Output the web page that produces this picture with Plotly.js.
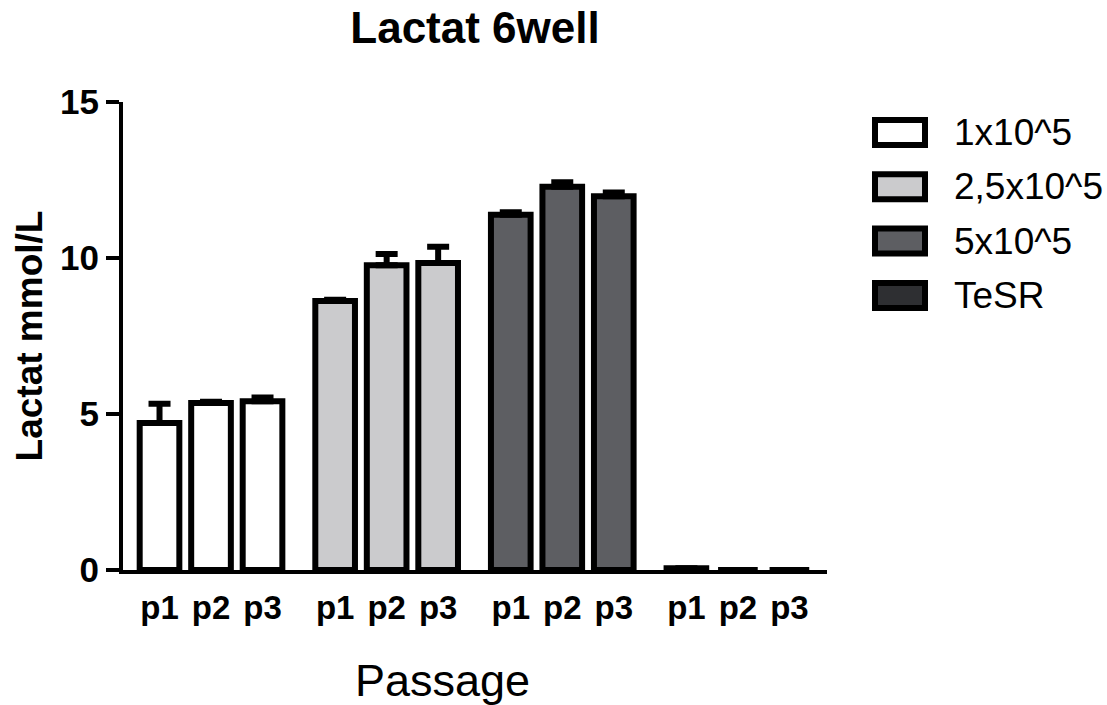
<!DOCTYPE html>
<html>
<head>
<meta charset="utf-8">
<script src="https://cdn.plot.ly/plotly-3.0.1.min.js"></script>
<style>html,body{margin:0;padding:0;background:#fff;}#chart{width:1107px;height:705px;}</style>
</head>
<body>
<div id="chart"></div>
<script>
// ---- data ----
const passages = ['p1', 'p2', 'p3'];
const seriesNames = ['1x10^5', '2,5x10^5', '5x10^5', 'TeSR'];
const vals1 = [4.71, 5.35, 5.41];
const err1 = [0.62, 0.04, 0.12];
const vals2 = [8.62, 9.77, 9.84];
const err2 = [0.04, 0.36, 0.52];
const vals3 = [11.39, 12.28, 11.98];
const err3 = [0.08, 0.15, 0.12];
const vals4 = [0.06, 0, 0];
const err4 = [0, 0, 0];
const yTicks = [0, 5, 10, 15];
const fillColors = ['#ffffff', '#cbcbcd', '#5d5e62', '#2e2f32'];
const xTitle = 'Passage';
const yTitle = 'Lactat mmol/L';
const chartTitle = 'Lactat 6well';

const allVals = [vals1, vals2, vals3, vals4];
const allErr = [err1, err2, err3, err4];

// ---- layout helpers ----
const FONT = 'Arial, "Liberation Sans", Helvetica, sans-serif';
const GROUP_STEP = 3.41;
const xRange = [-0.709, 12.96];
const W = 1107, H = 705;
const M = {l: 123, r: 280, t: 102, b: 135};
const plotW = W - M.l - M.r, plotH = H - M.t - M.b;
const pxX = p => (p - M.l) / plotW;
const pxY = p => (H - M.b - p) / plotH;

const traces = [];
const tickvals = [], ticktext = [];
allVals.forEach((vals, g) => {
  const xs = vals.map((_, i) => g * GROUP_STEP + i);
  xs.forEach((x, i) => { tickvals.push(x); ticktext.push(passages[i]); });
  traces.push({
    type: 'bar',
    name: seriesNames[g],
    x: xs,
    y: vals,
    width: 0.77,
    cliponaxis: false,
    showlegend: false,
    marker: {color: fillColors[g], line: {color: '#000', width: 6}},
    error_y: {
      type: 'data', symmetric: false,
      array: allErr[g], arrayminus: allErr[g].map(() => 0),
      color: '#000', thickness: 6, width: 11
    },
    hoverinfo: 'x+y'
  });
});

// custom legend (boxes + labels) and x-axis title placement
const shapes = [], annotations = [];
seriesNames.forEach((name, k) => {
  const cy = 132.5 + k * 54.3;
  shapes.push({
    type: 'rect', xref: 'paper', yref: 'paper',
    x0: pxX(875), x1: pxX(925), y0: pxY(cy + 12.5), y1: pxY(cy - 12.5),
    line: {color: '#000', width: 6}, fillcolor: fillColors[k]
  });
  annotations.push({
    xref: 'paper', yref: 'paper', x: pxX(952), y: pxY(cy),
    xanchor: 'left', yanchor: 'middle', showarrow: false,
    text: name, font: {family: FONT, size: 37, color: '#000'}
  });
});
annotations.push({
  xref: 'paper', yref: 'paper', x: pxX(442), y: pxY(680),
  xanchor: 'center', yanchor: 'middle', showarrow: false,
  text: xTitle, font: {family: FONT, size: 45, color: '#000'}
});

const layout = {
  width: W, height: H,
  margin: M,
  paper_bgcolor: '#fff', plot_bgcolor: '#fff',
  barmode: 'overlay',
  showlegend: false,
  title: {
    text: chartTitle,
    font: {family: FONT, size: 44, weight: 'bold', color: '#000'},
    x: 0.5, xref: 'paper', xanchor: 'center',
    y: 1 - 12 / H, yref: 'container', yanchor: 'top'
  },
  xaxis: {
    range: xRange, tickmode: 'array', tickvals: tickvals, ticktext: ticktext,
    showline: true, linewidth: 4, linecolor: '#000', mirror: false,
    ticks: '', showgrid: false, zeroline: false,
    ticklabelstandoff: 5,
    tickfont: {family: FONT, size: 33, weight: 'bold', color: '#000'},
    automargin: false, fixedrange: true
  },
  yaxis: {
    range: [0, 15], tickmode: 'array', tickvals: yTicks,
    showline: true, linewidth: 4, linecolor: '#000',
    ticks: 'outside', ticklen: 13, tickwidth: 4, tickcolor: '#000',
    showgrid: false, zeroline: false,
    tickfont: {family: FONT, size: 35, weight: 'bold', color: '#000'},
    title: {text: yTitle, font: {family: FONT, size: 37, weight: 'bold', color: '#000'}, standoff: 7},
    automargin: false, fixedrange: true
  },
  shapes: shapes,
  annotations: annotations
};

Plotly.newPlot('chart', traces, layout, {displayModeBar: false, staticPlot: true});
</script>
</body>
</html>
